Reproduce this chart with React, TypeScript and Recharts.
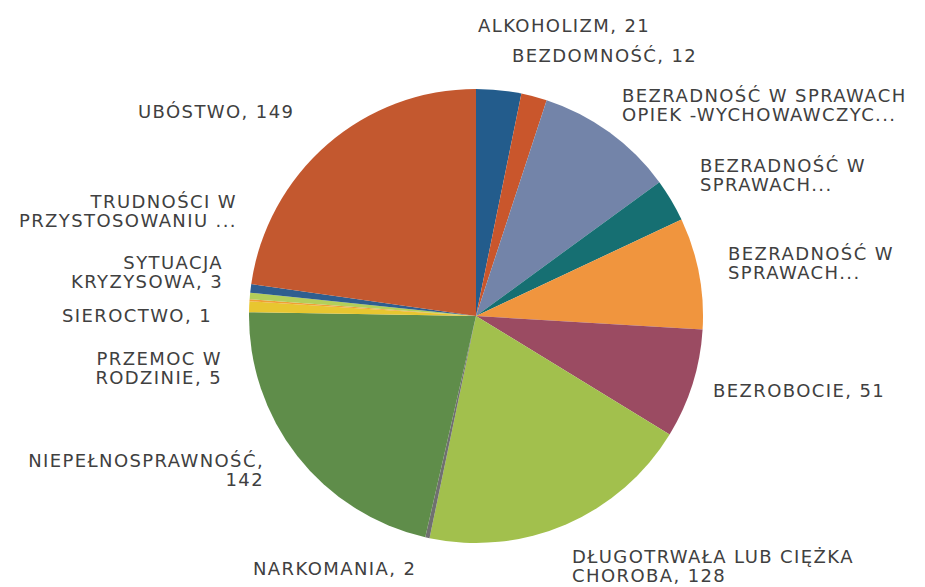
import React from "react"
import { PieChart, Pie, Cell } from "recharts"

const categories = [
  "ALKOHOLIZM",
  "BEZDOMNOŚĆ",
  "BEZRADNOŚĆ W SPRAWACH OPIEK.-WYCHOWAWCZYCH",
  "BEZRADNOŚĆ W SPRAWACH PROWADZENIA GOSPODARSTWA",
  "BEZRADNOŚĆ W SPRAWACH ...",
  "BEZROBOCIE",
  "DŁUGOTRWAŁA LUB CIĘŻKA CHOROBA",
  "NARKOMANIA",
  "NIEPEŁNOSPRAWNOŚĆ",
  "PRZEMOC W RODZINIE",
  "SIEROCTWO",
  "SYTUACJA KRYZYSOWA",
  "TRUDNOŚCI W PRZYSTOSOWANIU",
  "UBÓSTWO",
]

const values = [21, 12, 65, 20, 52, 51, 128, 2, 142, 5, 1, 3, 4, 149]

// label text as drawn (wrapped/truncated like the original)
const labelLines = [
  ["ALKOHOLIZM, 21"],
  ["BEZDOMNOŚĆ, 12"],
  ["BEZRADNOŚĆ W SPRAWACH", "OPIEK -WYCHOWAWCZYC..."],
  ["BEZRADNOŚĆ W", "SPRAWACH..."],
  ["BEZRADNOŚĆ W", "SPRAWACH..."],
  ["BEZROBOCIE, 51"],
  ["DŁUGOTRWAŁA LUB CIĘŻKA", "CHOROBA, 128"],
  ["NARKOMANIA, 2"],
  ["NIEPEŁNOSPRAWNOŚĆ,", "142"],
  ["PRZEMOC W", "RODZINIE, 5"],
  ["SIEROCTWO, 1"],
  ["SYTUACJA", "KRYZYSOWA, 3"],
  ["TRUDNOŚCI W", "PRZYSTOSOWANIU ..."],
  ["UBÓSTWO, 149"],
]

const colors = [
  "#235c8c",
  "#c9562c",
  "#7384a9",
  "#166f72",
  "#f0953e",
  "#9b4b62",
  "#a2c04d",
  "#707070",
  "#5f8d4a",
  "#e8c630",
  "#f0a035",
  "#b3cf5a",
  "#2f5e8f",
  "#c3582f",
]

// label placement: x, first baseline, anchor
const labelPos: [number, number, "start" | "end"][] = [
  [478, 32, "start"],
  [512, 62, "start"],
  [622, 102, "start"],
  [700, 172, "start"],
  [728, 260, "start"],
  [713, 397, "start"],
  [572, 563, "start"],
  [253, 575, "start"],
  [264, 467, "end"],
  [222, 365, "end"],
  [212, 322, "end"],
  [223, 269, "end"],
  [237, 208, "end"],
  [138, 118, "start"],
]

const data = categories.map((name, i) => ({ name, value: values[i] }))

function renderLabel(props: any) {
  const i = props.index
  const [x, y, anchor] = labelPos[i]
  return (
    <text
      key={"l" + i}
      x={x}
      y={y}
      textAnchor={anchor}
      fill="#404040"
      fontSize={18}
      letterSpacing={1.4}
      fontFamily="'DejaVu Sans', sans-serif"
    >
      {labelLines[i].map((line, j) => (
        <tspan key={j} x={x} y={y + j * 19}>
          {line}
        </tspan>
      ))}
    </text>
  )
}

export default function App() {
  return (
    <div style={{ position: "absolute", left: 0, top: 0, background: "#fff" }}>
      <PieChart width={925} height={587}>
        <Pie
          data={data}
          dataKey="value"
          nameKey="name"
          cx={471}
          cy={311}
          outerRadius={227}
          startAngle={90}
          endAngle={-270}
          stroke="none"
          label={renderLabel}
          labelLine={false}
          isAnimationActive={false}
        >
          {data.map((d, i) => (
            <Cell key={d.name} fill={colors[i]} />
          ))}
        </Pie>
      </PieChart>
    </div>
  )
}
